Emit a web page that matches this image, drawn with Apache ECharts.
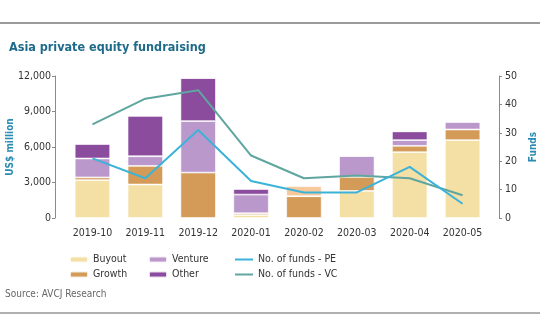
<!DOCTYPE html>
<html>
<head>
<meta charset="utf-8">
<script src="https://cdn.jsdelivr.net/npm/echarts@6/dist/echarts.min.js"></script>
<style>
html,body{margin:0;padding:0;background:#fff;}
#c{width:540px;height:334px;}
</style>
</head>
<body>
<div id="c"></div>
<script>
const categories = ['2019-10','2019-11','2019-12','2020-01','2020-02','2020-03','2020-04','2020-05'];
const buyout   = [3200, 2830, 0, 250, 0, 2290, 5560, 6580];
const growth   = [230, 1570, 3840, 150, 1840, 1180, 540, 900];
const venture  = [1600, 820, 4350, 1580, 0, 1780, 480, 650];
const other    = [1230, 3420, 3640, 480, 0, 0, 740, 0];
const buyoutTop = [0, 0, 0, 0, 850, 0, 0, 0];
const fundsPE  = [21, 14, 31, 13, 9, 9, 18, 5];
const fundsVC  = [33, 42, 45, 22, 14, 15, 14, 8];
const leftTicks = [0, 3000, 6000, 9000, 12000];
const rightTicks = [0, 10, 20, 30, 40, 50];

const FONT = "'Liberation Sans Narrow', 'DejaVu Sans Condensed', 'Roboto', sans-serif";
const C = {buyout:'#f4dfa5', growth:'#d39b57', venture:'#bb98cc', other:'#8b4c9e', peach:'#f7c89c', pe:'#3bb3d8', vc:'#5fa6a0'};

const chart = echarts.init(document.getElementById('c'), null, {renderer:'canvas'});
const barBase = (name, data, color) => ({
  name, type:'bar', stack:'amt', data, barWidth:'67%',
  itemStyle:{color, borderColor:'rgba(255,255,255,0.8)', borderWidth:0.8},
  emphasis:{disabled:true}
});
const legendBase = {
  orient:'vertical', itemWidth:18, itemHeight:6, itemGap:4,
  textStyle:{fontFamily:FONT, fontSize:10.5, color:'#333'},
  selectedMode:false
};
chart.setOption({
  animation:false,
  textStyle:{fontFamily:FONT},
  title:{
    text:'Asia private equity fundraising', left:4, top:36,
    textStyle:{fontFamily:FONT, fontSize:12.5, fontWeight:'bold', color:'#1e6a8a'}
  },
  graphic:[
    {type:'rect', shape:{x:0, y:22, width:540, height:2}, style:{fill:'#9a9a9a'}},
    {type:'rect', shape:{x:0, y:312, width:540, height:2}, style:{fill:'#b0b0b0'}},
    {type:'text', left:5, top:289, style:{text:'Source: AVCJ Research', fontFamily:FONT, fontSize:10, fill:'#666'}}
  ],
  legend:[
    Object.assign({}, legendBase, {left:64, top:249, data:['Buyout','Growth']}),
    Object.assign({}, legendBase, {left:143, top:249, data:['Venture','Other']}),
    Object.assign({}, legendBase, {left:230, top:249, data:[
      {name:'No. of funds - PE', icon:'rect', itemStyle:{color:C.pe}},
      {name:'No. of funds - VC', icon:'rect', itemStyle:{color:C.vc}}
    ], itemHeight:2})
  ],
  grid:{left:66, right:51, top:76, bottom:116, containLabel:false, outerBoundsMode:'none'},
  xAxis:{
    type:'category', data:categories,
    axisLine:{show:false}, axisTick:{show:false},
    axisLabel:{fontFamily:FONT, fontSize:10.5, color:'#333', margin:10, interval:0}
  },
  yAxis:[
    {
      type:'value', min:leftTicks[0], max:leftTicks[leftTicks.length-1], interval:3000, offset:11,
      name:'US$ million', nameLocation:'middle', nameRotate:90, nameGap:40, nameMoveOverlap:false,
      nameTextStyle:{fontFamily:FONT, fontSize:10, fontWeight:'bold', color:'#2b8cb3'},
      axisLine:{show:true, lineStyle:{color:'#8a8a8a', width:1}},
      axisTick:{show:true, length:3, lineStyle:{color:'#8a8a8a'}},
      splitLine:{show:false},
      axisLabel:{fontFamily:FONT, fontSize:10.5, color:'#333', margin:4,
        formatter:v => v.toLocaleString('en-US')}
    },
    {
      type:'value', position:'right', min:rightTicks[0], max:rightTicks[rightTicks.length-1], interval:10, offset:10,
      name:'Funds', nameLocation:'middle', nameRotate:90, nameGap:29, nameMoveOverlap:false,
      nameTextStyle:{fontFamily:FONT, fontSize:10, fontWeight:'bold', color:'#2b8cb3'},
      axisLine:{show:true, lineStyle:{color:'#8a8a8a', width:1}},
      axisTick:{show:true, length:3, lineStyle:{color:'#8a8a8a'}},
      splitLine:{show:false},
      axisLabel:{fontFamily:FONT, fontSize:10.5, color:'#333', margin:6}
    }
  ],
  series:[
    barBase('Buyout', buyout, C.buyout),
    barBase('Growth', growth, C.growth),
    barBase('Venture', venture, C.venture),
    barBase('Other', other, C.other),
    barBase('Buyout', buyoutTop, C.peach),
    {name:'No. of funds - PE', type:'line', yAxisIndex:1, data:fundsPE, symbol:'none',
     lineStyle:{color:C.pe, width:2}, itemStyle:{color:C.pe}, z:5},
    {name:'No. of funds - VC', type:'line', yAxisIndex:1, data:fundsVC, symbol:'none',
     lineStyle:{color:C.vc, width:2}, itemStyle:{color:C.vc}, z:4}
  ]
});
</script>
</body>
</html>
